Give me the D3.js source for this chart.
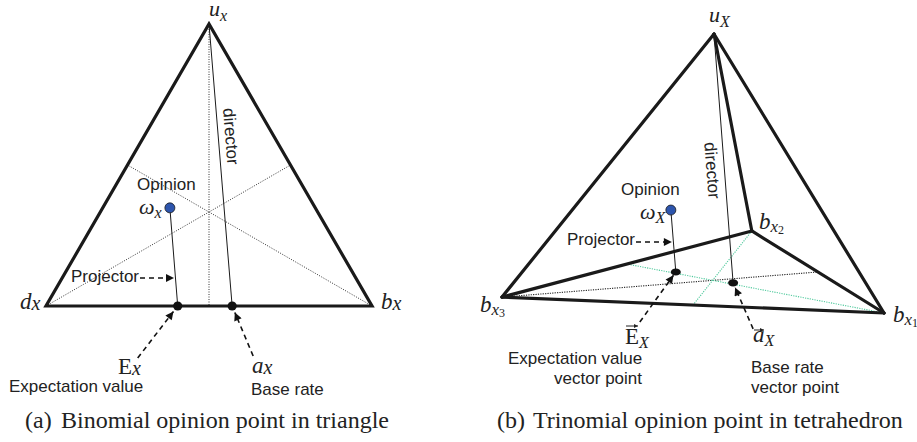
<!DOCTYPE html>
<html>
<head>
<meta charset="utf-8">
<script src="https://cdn.jsdelivr.net/npm/d3@7"></script>
<style>
  body { margin: 0; background: #fff; }
  text { fill: #222; }
  .sans { font-family: "Liberation Sans", Arial, sans-serif; font-size: 17px; }
  .serif { font-family: "Liberation Serif", "Times New Roman", serif; }
</style>
</head>
<body>
<svg id="fig" width="917" height="442"></svg>
<script>
// panel (a): triangle in opinion space [x, uncertainty]
var triNames = ["d", "b", "u"];
var triVerts = [[0, 0], [1, 0], [0.5, 1]];
var binOpinion = [0.38, 0.348];
var binExpect = [0.404, 0];
var binBaseRate = [0.571, 0];

// panel (b): tetrahedron, projected to the page plane
var tetNames = ["b3", "b1", "b2", "u"];
var tetVerts = [[0, 0.057], [1, 0], [0.654, 0.294], [0.555, 1]];
var tetEdges = [[3, 0], [3, 1], [3, 2], [0, 1], [0, 2], [2, 1]];
var triOpinion = [0.442, 0.369];
var triExpect = [0.455, 0.147];
var triBaseRate = [0.605, 0.108];

var captionTags = ["(a)", "(b)"];
var captions = ["Binomial opinion point in triangle", "Trinomial opinion point in tetrahedron"];

var svg = d3.select("#fig");

svg.append("defs").append("marker")
    .attr("id", "head")
    .attr("viewBox", "0 0 10 10")
    .attr("refX", 10).attr("refY", 5)
    .attr("markerWidth", 11).attr("markerHeight", 8)
    .attr("markerUnits", "userSpaceOnUse")
    .attr("orient", "auto")
  .append("path").attr("d", "M0,0L10,5L0,10z").attr("fill", "#111");

svg.select("defs").append("marker")
    .attr("id", "vhead")
    .attr("viewBox", "0 0 10 10")
    .attr("refX", 10).attr("refY", 5)
    .attr("markerWidth", 4).attr("markerHeight", 4)
    .attr("markerUnits", "userSpaceOnUse")
    .attr("orient", "auto")
  .append("path").attr("d", "M0,0L10,5L0,10z").attr("fill", "#222");

var xA = d3.scaleLinear().domain([0, 1]).range([46, 372]),
    yA = d3.scaleLinear().domain([0, 1]).range([306, 24]),
    xB = d3.scaleLinear().domain([0, 1]).range([502, 884]),
    yB = d3.scaleLinear().domain([0, 1]).range([313, 34]);

function mid(p, q) { return [(p[0] + q[0]) / 2, (p[1] + q[1]) / 2]; }

function seg(g, p, q, sx, sy, cls) {
    return g.append("line")
        .attr("x1", sx(p[0])).attr("y1", sy(p[1]))
        .attr("x2", sx(q[0])).attr("y2", sy(q[1]))
        .attr("class", cls);
}

function styleLines() {
    svg.selectAll(".thick").attr("stroke", "#1a1a1a").attr("stroke-width", 3.2).attr("stroke-linecap", "round");
    svg.selectAll(".thin").attr("stroke", "#1a1a1a").attr("stroke-width", 1);
    svg.selectAll(".dot").attr("stroke", "#333").attr("stroke-width", 1).attr("stroke-dasharray", "1,1.5");
    svg.selectAll(".dotB").attr("stroke", "#222").attr("stroke-width", 1.1).attr("stroke-dasharray", "1.2,1.2");
    svg.selectAll(".green").attr("stroke", "#4fc99c").attr("stroke-width", 1.1).attr("stroke-dasharray", "1.2,1.2");
}

// dashed annotation arrow, tip is pulled back from the point by 'gap'
function arrow(g, tail, pt, gap) {
    var dx = tail[0] - pt[0], dy = tail[1] - pt[1], L = Math.sqrt(dx * dx + dy * dy);
    g.append("line")
        .attr("x1", tail[0]).attr("y1", tail[1])
        .attr("x2", pt[0] + dx / L * gap).attr("y2", pt[1] + dy / L * gap)
        .attr("stroke", "#111").attr("stroke-width", 1.6)
        .attr("stroke-dasharray", "5,4")
        .attr("marker-end", "url(#head)");
}

function sans(g, x, y, s, anchor) {
    return g.append("text").attr("class", "sans")
        .attr("x", x).attr("y", y)
        .attr("text-anchor", anchor || "start").text(s);
}

// parts: [text, size, style, dy]
function math(g, x, y, parts) {
    var t = g.append("text").attr("class", "serif").attr("x", x).attr("y", y);
    parts.forEach(function (p) {
        t.append("tspan")
            .attr("font-size", p[1])
            .attr("font-style", p[2] || "italic")
            .attr("dy", p[3] || 0)
            .text(p[0]);
    });
    return t;
}

function director(g, from, to, sx, sy, t, off) {
    var x1 = sx(from[0]), y1 = sy(from[1]), x2 = sx(to[0]), y2 = sy(to[1]);
    var ang = Math.atan2(y2 - y1, x2 - x1) * 180 / Math.PI;
    var px = x1 + (x2 - x1) * t + off, py = y1 + (y2 - y1) * t;
    g.append("text").attr("class", "sans")
        .attr("text-anchor", "middle")
        .attr("transform", "translate(" + px + "," + py + ") rotate(" + ang + ")")
        .text("director");
}

/* ---------- panel (a) ---------- */
var gA = svg.append("g");

triVerts.forEach(function (v, i) {
    var o = triVerts.filter(function (d, j) { return j !== i; });
    seg(gA, v, mid(o[0], o[1]), xA, yA, "dot");
});
gA.append("path")
    .attr("d", d3.line().x(function (d) { return xA(d[0]); }).y(function (d) { return yA(d[1]); })(triVerts) + "Z")
    .attr("fill", "none").attr("stroke", "#1a1a1a").attr("stroke-width", 3.2).attr("stroke-linejoin", "miter");
seg(gA, triVerts[2], binBaseRate, xA, yA, "thin");
seg(gA, binOpinion, binExpect, xA, yA, "thin");

[binExpect, binBaseRate].forEach(function (p) {
    gA.append("circle").attr("cx", xA(p[0])).attr("cy", yA(p[1])).attr("r", 4.6).attr("fill", "#111");
});
gA.append("circle").attr("cx", xA(binOpinion[0])).attr("cy", yA(binOpinion[1])).attr("r", 5)
    .attr("fill", "#2d55ad").attr("stroke", "#1a1a1a").attr("stroke-width", 0.8);

director(gA, triVerts[2], binBaseRate, xA, yA, 0.4, 7);

var eA = [xA(binExpect[0]), yA(binExpect[1])], aA = [xA(binBaseRate[0]), yA(binBaseRate[1])];
arrow(gA, [eA[0] - 40, eA[1] + 52], eA, 7);
arrow(gA, [aA[0] + 21, aA[1] + 50], aA, 7);
var projYA = 278, tA = (projYA - yA(binOpinion[1])) / (yA(binExpect[1]) - yA(binOpinion[1]));
var projXA = xA(binOpinion[0]) + (xA(binExpect[0]) - xA(binOpinion[0])) * tA;
arrow(gA, [140, projYA], [projXA, projYA], 1.5);

sans(gA, 137, 190, "Opinion");
sans(gA, 71, 282, "Projector");
sans(gA, 9, 392, "Expectation value");
sans(gA, 251, 395, "Base rate");

math(gA, 209, 16, [["u", 22], ["x", 16, null, 5]]);
math(gA, 20, 309, [["d", 23], ["x", 20, null, 1]]);
math(gA, 381, 309, [["b", 23], ["x", 20, null, 1]]);
math(gA, 139, 214, [["ω", 22], ["x", 16, null, 4]]);
math(gA, 118, 374, [["E", 23, "normal"], ["x", 20, null, 1]]);
math(gA, 252, 373, [["a", 23], ["x", 20, null, 1]]);

/* ---------- panel (b) ---------- */
var gB = svg.append("g");

var base = [tetVerts[0], tetVerts[1], tetVerts[2]];
seg(gB, base[0], mid(base[1], base[2]), xB, yB, "dotB");
seg(gB, base[1], mid(base[0], base[2]), xB, yB, "green");
seg(gB, base[2], mid(base[0], base[1]), xB, yB, "green");

tetEdges.forEach(function (e) { seg(gB, tetVerts[e[0]], tetVerts[e[1]], xB, yB, "thick"); });
seg(gB, tetVerts[3], triBaseRate, xB, yB, "thin");
seg(gB, triOpinion, triExpect, xB, yB, "thin");

[triExpect, triBaseRate].forEach(function (p) {
    gB.append("ellipse").attr("cx", xB(p[0])).attr("cy", yB(p[1])).attr("rx", 5).attr("ry", 3.6).attr("fill", "#111");
});
gB.append("circle").attr("cx", xB(triOpinion[0])).attr("cy", yB(triOpinion[1])).attr("r", 5)
    .attr("fill", "#2d55ad").attr("stroke", "#1a1a1a").attr("stroke-width", 0.8);

director(gB, tetVerts[3], triBaseRate, xB, yB, 0.55, -18);

var eB = [xB(triExpect[0]), yB(triExpect[1])], aB = [xB(triBaseRate[0]), yB(triBaseRate[1])];
arrow(gB, [eB[0] - 36, eB[1] + 50], eB, 4);
arrow(gB, [aB[0] + 20, aB[1] + 46], aB, 5);
var projYB = 242, tB = (projYB - yB(triOpinion[1])) / (yB(triExpect[1]) - yB(triOpinion[1]));
var projXB = xB(triOpinion[0]) + (xB(triExpect[0]) - xB(triOpinion[0])) * tB;
arrow(gB, [636, projYB], [projXB, projYB], 1.5);

sans(gB, 621, 195, "Opinion");
sans(gB, 567, 245, "Projector");
sans(gB, 508, 364, "Expectation value");
sans(gB, 642, 384, "vector point", "end");
sans(gB, 751, 373, "Base rate");
sans(gB, 751, 393, "vector point");

math(gB, 709, 22, [["u", 22], ["X", 16, null, 5]]);
math(gB, 640, 219, [["ω", 22], ["X", 16, null, 4]]);
math(gB, 759, 229, [["b", 23], ["x", 17, null, 3], ["2", 12, "normal", 2]]);
math(gB, 480, 312, [["b", 23], ["x", 17, null, 3], ["3", 12, "normal", 2]]);
math(gB, 893, 322, [["b", 23], ["x", 17, null, 3], ["1", 12, "normal", 2]]);
math(gB, 625, 344, [["E", 23, "normal"], ["X", 16, null, 4]]);
math(gB, 753, 342, [["a", 23], ["X", 16, null, 4]]);

// vector arrows over E and a
[[626, 638, 326], [754, 764, 330]].forEach(function (v) {
    gB.append("line").attr("x1", v[0]).attr("y1", v[2]).attr("x2", v[1]).attr("y2", v[2])
        .attr("stroke", "#222").attr("stroke-width", 1).attr("marker-end", "url(#vhead)");
});

styleLines();

/* ---------- captions ---------- */
[[25, 61], [497, 533]].forEach(function (xs, i) {
    svg.append("text").attr("class", "serif").attr("font-size", 24)
        .attr("x", xs[0]).attr("y", 428).text(captionTags[i]);
    svg.append("text").attr("class", "serif").attr("font-size", 24)
        .attr("x", xs[1]).attr("y", 428).text(captions[i]);
});
</script>
</body>
</html>
